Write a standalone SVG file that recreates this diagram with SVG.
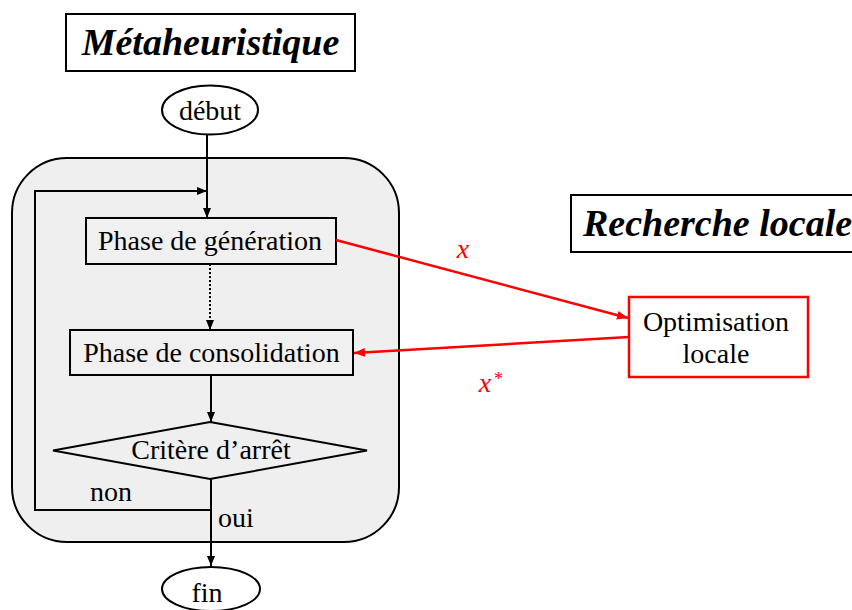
<svg xmlns="http://www.w3.org/2000/svg" width="852" height="610" viewBox="0 0 852 610">
<defs>
<style>
.t{font-family:"Liberation Serif","Times New Roman",serif;fill:#000;font-size:28px}
.title{font-family:"Liberation Serif","Times New Roman",serif;font-weight:bold;font-style:italic;font-size:38px;fill:#000}
.box{fill:#fff;stroke:#000;stroke-width:2}
.node{fill:#f0f0f0;stroke:#000;stroke-width:2}
.ln{fill:none;stroke:#000;stroke-width:2}
.red{fill:none;stroke:#ff0000;stroke-width:2.5}
.rt{font-family:"Liberation Serif","Times New Roman",serif;font-style:italic;fill:#ff0000;font-size:28px}
</style>
<marker id="ahb" viewBox="0 0 10 10" refX="10" refY="5" markerWidth="10" markerHeight="10" orient="auto" markerUnits="userSpaceOnUse">
<path d="M0,1 L10,5 L0,9 z" fill="#000"/>
</marker>
<marker id="ahr" viewBox="0 0 10 10" refX="10" refY="5" markerWidth="11" markerHeight="11" orient="auto" markerUnits="userSpaceOnUse">
<path d="M0,1 L10,5 L0,9 z" fill="#ff0000"/>
</marker>
</defs>
<rect width="852" height="610" fill="#fff"/>
<g id="metaheuristique-title">
<rect class="box" x="66" y="14" width="289" height="57"/>
<text class="title" x="210.5" y="55" text-anchor="middle">Métaheuristique</text>
</g>
<g id="recherche-locale-title">
<rect class="box" x="571" y="195" width="292" height="57"/>
<text class="title" x="583" y="236" font-size="37">Recherche locale</text>
</g>
<g id="container">
<rect x="12" y="158" width="387" height="384" rx="55" ry="55" fill="#efefef" stroke="#000" stroke-width="2"/>
</g>
<g id="debut">
<ellipse cx="210" cy="110" rx="48" ry="24.5" fill="#fff" stroke="#000" stroke-width="2"/>
<text class="t" x="210" y="120" text-anchor="middle">début</text>
</g>
<g id="generation">
<rect class="node" x="86" y="218" width="250" height="46"/>
<text class="t" x="210" y="250" text-anchor="middle">Phase de génération</text>
</g>
<g id="consolidation">
<rect class="node" x="70" y="330" width="283" height="45"/>
<text class="t" x="211.5" y="362" text-anchor="middle">Phase de consolidation</text>
</g>
<g id="critere">
<polygon points="210,422 367,450.5 210,479 53,450.5" fill="#efefef" stroke="#000" stroke-width="2"/>
<text class="t" x="211" y="459" text-anchor="middle">Critère d’arrêt</text>
</g>
<g id="fin">
<ellipse cx="211" cy="589" rx="49" ry="22" fill="#fff" stroke="#000" stroke-width="2"/>
<text class="t" x="207" y="602" text-anchor="middle">fin</text>
</g>
<g id="optimisation">
<rect x="629" y="297" width="179" height="80" fill="#fff" stroke="#ff0000" stroke-width="2.5"/>
<text class="t" x="716" y="331" text-anchor="middle">Optimisation</text>
<text class="t" x="716" y="363" text-anchor="middle">locale</text>
</g>
<g id="connectors">
<line class="ln" x1="207" y1="135" x2="207" y2="218" marker-end="url(#ahb)"/>
<polyline class="ln" points="211,479 211,510 35,510 35,191 207,191" marker-end="url(#ahb)"/>
<line class="ln" x1="210" y1="264" x2="210" y2="330" stroke-dasharray="2,2" marker-end="url(#ahb)"/>
<line class="ln" x1="211" y1="375" x2="211" y2="422" marker-end="url(#ahb)"/>
<line class="ln" x1="211" y1="479" x2="211" y2="566" marker-end="url(#ahb)"/>
<line class="red" x1="336" y1="240" x2="628" y2="318" marker-end="url(#ahr)"/>
<line class="red" x1="629" y1="337" x2="354" y2="353" marker-end="url(#ahr)"/>
</g>
<g id="labels">
<text class="t" x="90" y="501">non</text>
<text class="t" x="218" y="527">oui</text>
<text class="rt" x="463" y="258" text-anchor="middle">x</text>
<text class="rt" x="485" y="392" text-anchor="middle">x</text>
<text x="494" y="385" font-family="Liberation Serif, serif" font-size="18" fill="#ff0000">*</text>
</g>
</svg>
